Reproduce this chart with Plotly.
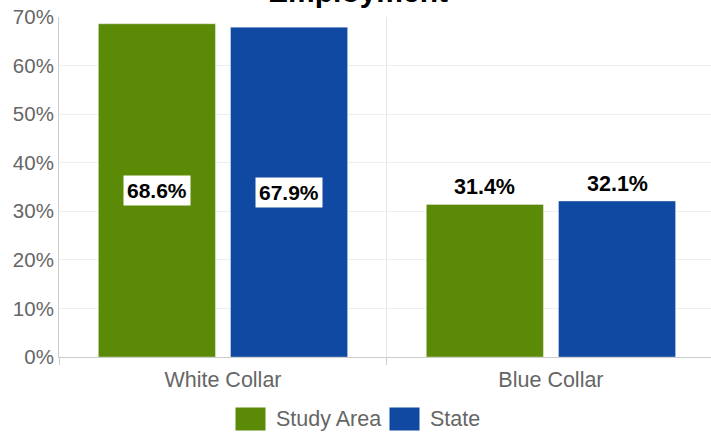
import plotly.graph_objects as go

categories = ["White Collar", "Blue Collar"]
series_names = ["Study Area", "State"]
study_area = [68.6, 31.4]
state = [67.9, 32.1]
colors = ["#5b8a07", "#0f49a1"]
title_text = "Employment"

x_idx = list(range(len(categories)))
bar_w = 0.357
offsets = [-0.38, 0.023]

W, H = 711, 433
ML, MR, MT, MB = 59, 0, 17, 76
PW, PH = W - ML - MR, H - MT - MB
FONT = "Liberation Sans, Arial"


def px_to_paper(px, py):
    return (px - ML) / PW, (H - MB - py) / PH


fig = go.Figure()
for name, vals, col, off in zip(series_names, [study_area, state], colors, offsets):
    fig.add_trace(go.Bar(
        x=x_idx, y=vals, name=name, width=bar_w, offset=off,
        marker=dict(color=col, line=dict(color="rgba(255,255,255,0.35)", width=1)),
        hoverinfo="skip", showlegend=False,
    ))

annotations = []
for vals, off in zip([study_area, state], offsets):
    for i, v in enumerate(vals):
        xc = x_idx[i] + off + bar_w / 2
        if v > 50:
            annotations.append(dict(
                x=xc, y=v / 2, xref="x", yref="y", text=f"{v:.1f}%",
                showarrow=False, bgcolor="white", borderpad=3,
                font=dict(family=FONT, size=21, color="black", weight="bold"),
                yanchor="middle"))
        else:
            annotations.append(dict(
                x=xc, y=v, xref="x", yref="y", text=f"{v:.1f}%",
                showarrow=False, yanchor="bottom", yshift=3,
                font=dict(family=FONT, size=21.5, color="black", weight="bold")))

# title (partly above the top edge, as in the reference)
tx, _ = px_to_paper(W / 2 + 2, 0)
annotations.append(dict(
    x=tx, xref="paper", y=1, yref="paper", yanchor="middle", yshift=26,
    text=f"<b>{title_text}</b>", showarrow=False,
    font=dict(family=FONT, size=30, color="black")))

# legend: large colour swatches followed by names
legend_swatch_left = [236, 390]
legend_cy = 419
for name, col, sx in zip(series_names, colors, legend_swatch_left):
    bx, by = px_to_paper(sx + 14.5, legend_cy)
    annotations.append(dict(
        x=bx, y=by, xref="paper", yref="paper", xanchor="center", yanchor="middle",
        text=" ", showarrow=False, width=29, height=22, bgcolor=col, borderpad=0,
        font=dict(size=10)))
    lx, ly = px_to_paper(sx + 38, legend_cy)
    annotations.append(dict(
        x=lx, y=ly, xref="paper", yref="paper", xanchor="left", yanchor="middle",
        text=name, showarrow=False,
        font=dict(family=FONT, size=21.5, color="#666666")))

fig.update_layout(
    width=W, height=H,
    margin=dict(l=ML, r=MR, t=MT, b=MB, autoexpand=False),
    paper_bgcolor="white", plot_bgcolor="white",
    font=dict(family=FONT, size=20, color="#666666"),
    showlegend=False,
    annotations=annotations,
    xaxis=dict(
        range=[-0.5, 1.488], tickvals=x_idx, ticktext=categories,
        showgrid=False, ticks="", zeroline=False, automargin=False,
        showline=True, linecolor="#cccccc", linewidth=1, ticklabelstandoff=3,
        tickfont=dict(size=21.5, color="#666666"),
        minor=dict(tickvals=[-0.5, 0.5, 1.5], showgrid=True, gridcolor="#e6e6e6",
                   ticks="outside", ticklen=7, tickcolor="#cccccc"),
    ),
    yaxis=dict(
        range=[0, 70], dtick=10, ticksuffix="%", automargin=False,
        showgrid=True, gridcolor="#eeeeee", zeroline=False,
        showline=True, linecolor="#cccccc", linewidth=1,
        tickfont=dict(size=20.5, color="#666666"), ticks="",
    ),
)

fig.write_html("out.html", config={"displayModeBar": False},
               post_script="document.body.style.margin='0';document.body.style.overflow='hidden';")
